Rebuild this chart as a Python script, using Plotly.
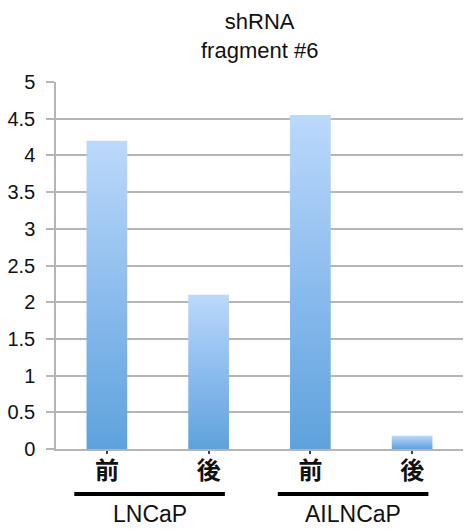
import plotly.graph_objects as go

# Data
conditions = ["前", "後", "前", "後"]
values = [4.2, 2.1, 4.55, 0.18]
cell_lines = ["LNCaP", "AILNCaP"]
cell_line_members = [[0, 1], [2, 3]]
y_ticks = [0, 0.5, 1, 1.5, 2, 2.5, 3, 3.5, 4, 4.5, 5]
y_tick_labels = ["0", "0.5", "1", "1.5", "2", "2.5", "3", "3.5", "4", "4.5", "5"]
title_lines = ["shRNA", "fragment #6"]

BAR_WIDTH = 0.4
GRID = "#b5b5b5"
LATIN = "Liberation Sans, Arial, sans-serif"
CJK = "Noto Sans CJK JP, sans-serif"

fig = go.Figure()

# Each bar is a filled rectangle so it can carry a vertical gradient
for i, v in enumerate(values):
    x0, x1 = i - BAR_WIDTH / 2, i + BAR_WIDTH / 2
    fig.add_trace(go.Scatter(
        x=[x0, x1, x1, x0, x0],
        y=[0, 0, v, v, 0],
        mode="lines",
        line=dict(width=0),
        fill="toself",
        fillgradient=dict(
            type="vertical",
            colorscale=[[0, "#5ea2dc"], [0.5, "#8cbcee"], [1, "#bbd9fb"]],
        ),
        hoverinfo="skip",
        showlegend=False,
    ))

# Two-line heading centred over the plot area
fig.add_annotation(
    x=0.5, y=1.125, xref="paper", yref="paper",
    text="<br>".join(title_lines), showarrow=False,
    xanchor="center", yanchor="middle", align="center",
    font=dict(family=LATIN, size=22, color="#111111"),
)

# Underline and name for each cell line
for name, members in zip(cell_lines, cell_line_members):
    x_start = min(members) - 0.32
    x_end = max(members) + 0.16
    fig.add_shape(
        type="line", xref="x", yref="paper",
        x0=x_start, x1=x_end, y0=-0.1226, y1=-0.1226,
        line=dict(color="#000000", width=4),
    )
    fig.add_annotation(
        x=(x_start + x_end) / 2, y=-0.176, xref="x", yref="paper",
        text=name, showarrow=False, xanchor="center", yanchor="middle",
        font=dict(family=LATIN, size=23, color="#111111"),
    )

fig.update_layout(
    width=465,
    height=531,
    margin=dict(l=56, r=2, t=82, b=82),
    paper_bgcolor="white",
    plot_bgcolor="white",
    xaxis=dict(
        range=[-0.5, 3.5],
        tickmode="array",
        tickvals=list(range(len(conditions))),
        ticktext=conditions,
        tickfont=dict(family=CJK, size=24, color="#111111", weight=600),
        ticks="outside", ticklen=3, tickwidth=1.5, tickcolor="#444444",
        ticklabelstandoff=-4,
        showgrid=False, zeroline=False,
        showline=True, linecolor=GRID, linewidth=1.5,
        fixedrange=True,
    ),
    yaxis=dict(
        range=[0, 5],
        tickmode="array",
        tickvals=y_ticks,
        ticktext=y_tick_labels,
        tickfont=dict(family=LATIN, size=20, color="#111111"),
        ticks="outside", ticklen=8, tickwidth=1.5, tickcolor=GRID,
        ticklabelstandoff=7,
        showgrid=True, gridcolor=GRID, gridwidth=1.5,
        zeroline=False,
        showline=True, linecolor=GRID, linewidth=1.5,
        fixedrange=True,
    ),
)

fig.write_html("out.html")
